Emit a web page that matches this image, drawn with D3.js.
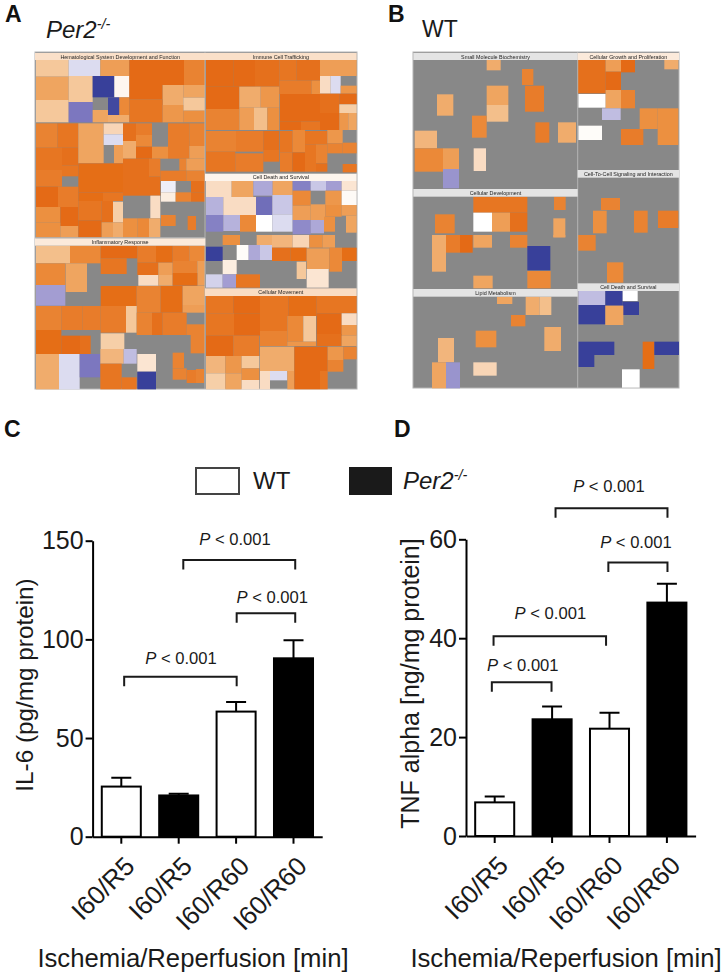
<!DOCTYPE html>
<html><head><meta charset="utf-8">
<script src="https://cdnjs.cloudflare.com/ajax/libs/d3/7.8.5/d3.min.js"></script>
<style>html,body{margin:0;background:#fff}svg{display:block}text{font-family:"Liberation Sans",Arial,sans-serif;fill:#1a1a1a}</style>
</head><body><svg id="c" width="725" height="977"><defs><filter id="soft" x="-2%" y="-2%" width="104%" height="104%"><feGaussianBlur stdDeviation="0.5"/></filter></defs></svg>
<script>
// ---------- DATA ----------
// Pathway tiles: [u0, v0, u1, v1, z] in grid units of each map region; z null = not significant
const tilesA1 = [
[18,45,116,95,.35],[116,45,211,93,-.2],[211,45,298,93,.6],[18,95,116,165,.55],[116,93,188,171,.35],[188,93,253,157,-1],[253,93,298,157,.05],
[18,165,116,232,.35],[116,171,188,232,-.7],[234,157,268,210,-.95],[268,157,298,210,.75],[188,195,234,232,.55],[234,210,298,232,.5],
[298,45,462,120,1],[462,45,525,120,.8],[298,120,398,163,1],[398,120,460,180,.5],[460,120,525,158,.55],[460,158,525,197,.35],[298,163,398,232,.9],[398,180,460,232,.65],[460,197,525,232,.7],
[18,235,82,308,.8],[82,235,145,308,.9],[18,308,96,375,.9],[96,308,145,362,.95],[96,362,145,394,.9],[18,375,96,425,.85],[18,425,84,486,1],[84,425,145,486,.85],[18,486,91,533,.7],[91,486,145,543,1],[18,533,91,578,.7],[91,543,145,578,.6],
[145,235,221,297,.55],[145,297,221,355,.55],[221,235,279,268,.25],[221,268,279,300,-.2],[252,300,279,355,.6],
[279,235,318,288,.95],[318,235,366,270,.85],[318,270,366,305,.75],[279,288,318,341,.5],[318,305,366,341,1],[366,305,414,341,.7],[414,235,478,288,.85],[478,235,525,303,.8],[414,288,478,341,.85],[478,303,525,341,.6],
[145,355,279,443,.97],[219,443,279,468,.9],[145,443,219,468,.97],[145,468,215,526,.9],[215,468,249,532,.95],[249,470,279,532,.3],[145,526,215,578,1],[215,532,249,578,.6],[249,532,279,578,.5],
[279,341,357,452,.95],[357,341,391,395,.85],[448,341,469,377,.8],[469,341,525,377,.6],[391,377,469,408,.85],[469,377,525,408,.8],[357,395,391,452,.95],
[361,452,391,520,.2],[279,520,323,578,.7],[323,520,357,578,.75],[357,520,391,578,.5],
[393,408,437,442,-.1],[393,442,437,470,.1],[483,408,525,442,.95],[437,442,483,470,.8],[483,442,525,470,.95],[393,510,437,543,.8],[473,513,498,555,.85]];
const tilesA2 = [
[18,45,100,125,1],[100,45,165,125,1],[165,45,238,125,.95],[238,45,290,107,.9],[290,45,360,107,.95],[360,45,470,93,.6],
[18,125,118,192,1],[118,125,182,188,.5],[182,125,238,188,.65],[238,107,335,147,.85],[335,107,360,147,.7],[360,93,392,146,.2],[392,93,422,146,-.2],[422,122,470,146,.65],
[18,192,118,255,.8],[118,188,162,255,.6],[162,188,202,255,.4],[202,188,238,255,.7],
[240,147,360,230,1],[240,230,303,255,1],[303,230,360,255,.9],[360,146,418,204,.95],[418,146,470,178,1],[418,178,470,204,.3],[360,204,418,255,1],[418,204,445,255,.65],[445,204,470,255,.55],
[18,258,108,320,.8],[108,258,190,320,.85],[190,258,238,315,.95],[18,320,106,380,.9],[106,325,190,380,.85],[190,315,238,350,.9],
[240,258,278,322,.9],[278,255,315,322,.75],[240,322,277,380,.85],[277,322,315,380,1],
[315,258,382,298,.9],[315,298,348,380,.9],[348,298,382,355,.8],[348,355,382,380,.95],[382,255,428,295,.65],[382,295,428,325,.8],[428,293,470,325,.8],[428,357,470,382,.9],
[18,408,95,456,.2],[95,408,160,456,.55],[160,408,218,452,-.45],[218,408,278,450,.55],[278,408,332,437,-.65],[332,408,378,437,-.3],[378,408,425,437,-.5],[425,408,470,437,.15],
[18,456,70,510,-.4],[70,456,120,510,.2],[120,456,168,510,.2],[168,455,217,510,-.75],[217,450,278,508,-.3],[278,437,332,482,.75],[376,437,425,480,.65],[425,437,470,480,.03],
[18,510,70,560,-.65],[70,510,120,558,-.4],[120,510,168,560,.75],[168,510,217,560,0],[217,508,278,560,-.2],[278,482,332,525,.6],[332,478,376,525,.6],[376,480,425,515,.7],[425,480,470,512,.6],[278,525,332,568,-.6],[332,525,372,565,-.45],[372,515,405,560,.7],[438,512,470,563,.55]];
const tilesA3 = [
[18,32,120,85,.4],[120,32,212,85,.75],[212,32,322,70,1],[212,70,290,117,.9],[322,32,378,83,.85],[378,32,428,83,.97],[428,32,478,78,.85],[478,32,525,78,.75],
[18,85,106,150,.75],[107,85,171,171,.55],[322,83,385,120,.95],[385,83,428,120,.6],[428,78,502,114,.8],[502,78,525,152,.6],[325,120,385,152,.2],[385,120,428,152,.5],[428,114,502,152,.97],
[18,150,106,212,-.5],[212,153,320,213,.97],[320,153,392,233,.8],[392,153,458,233,.97],[458,153,525,210,.55],[458,210,525,233,.6],
[18,213,94,285,.8],[94,213,158,285,.85],[158,213,212,285,.85],[212,213,288,293,.85],[288,213,320,293,.35],[320,233,366,300,.8],[366,233,398,300,.95],[398,233,435,300,.85],[435,233,470,300,.85],[470,268,525,300,.8],
[18,285,94,357,.97],[94,302,150,357,1],[150,302,182,357,.95],[212,295,283,342,.3],[482,300,525,355,.8],
[18,357,87,463,.5],[87,357,149,463,-.2],[149,357,211,427,-.7],[211,342,281,386,.45],[281,342,320,386,-.35],[211,386,275,463,.9],[275,427,320,463,.9],[322,357,378,410,.15],[322,410,378,463,-1],[428,353,462,400,.8],[428,400,470,434,.8],[470,405,498,444,.85],[498,402,522,444,.8]];
const tilesA4 = [
[68,0,120,30,.7],[170,0,216,30,.5],[216,0,278,38,.45],[278,0,328,38,.25],[328,0,368,38,.7],[368,0,405,38,.6],
[18,35,68,78,-1],[110,30,146,75,.02],[146,30,180,75,-.45],[180,30,216,75,-.3],[216,38,272,78,.95],[272,38,320,78,.97],[320,40,388,102,.6],[388,38,426,110,.75],[426,38,470,78,.97],
[68,75,110,118,.1],[18,118,68,158,-.25],[68,118,108,158,-.5],[108,118,180,158,.9],[290,80,318,132,.35],[320,102,386,158,.15],
[18,183,100,235,.9],[100,183,180,235,1],[18,235,102,302,.9],[102,235,180,302,1],[180,183,265,243,.9],[265,183,350,243,.97],[350,183,470,235,.9],
[180,243,262,288,.9],[262,243,310,320,.75],[310,243,348,320,.35],[180,288,262,333,.8],[262,320,348,333,.65],[350,235,425,297,1],[425,235,470,270,.2],[425,270,470,302,.65],[350,297,425,333,.95],[425,302,470,333,.55],
[18,302,100,363,1],[100,302,178,363,.85],[18,363,76,415,.45],[76,363,125,415,.65],[125,363,178,400,.35],[18,415,76,463,.3],[76,415,125,463,.55],[125,400,178,435,.7],[125,435,178,463,.2],
[180,335,283,408,.5],[180,408,210,463,.2],[210,408,262,436,-.2],[262,408,283,463,.6],[283,335,383,408,1],[283,408,360,463,1],[360,408,383,463,.9],[383,335,430,375,.65],[430,335,470,373,.8],[383,375,430,410,.8]];
const tilesB1 = [
[230,45,272,76,.5],[336,72,370,120,.8],[230,122,295,180,.55],[230,180,295,230,.4],[345,122,402,200,.85],[81,148,130,212,.5],[186,212,230,278,.75],[376,232,418,293,.85],[444,232,498,293,.5],[14,257,81,310,.45],[14,310,99,380,.75],[99,310,147,372,.6],[191,310,228,378,.2],[99,372,147,430,-.55],
[432,455,467,495,.8],[190,455,352,503,.9],[75,508,134,565,.8],[190,503,246,560,0],[246,503,300,560,.6],[300,503,352,560,.95],[430,520,466,577,.55]];
const tilesB2 = [
[23,45,107,145,.95],[107,45,153,80,.6],[153,45,195,82,1],[283,45,325,73,.5],[107,80,153,135,1],[25,147,107,188,0],[107,135,153,190,.55],[153,135,195,190,.8],[96,190,152,225,-.35],[209,190,263,252,.7],[263,190,325,300,.7],[25,242,96,285,.02],[153,252,220,300,.85],
[93,459,150,495,.8],[69,497,110,565,.7],[192,497,233,563,.8],[264,497,325,549,.85]];
const tilesB3 = [
[66,0,108,110,.5],[108,0,150,53,.85],[150,0,188,53,1],[190,0,246,38,.55],[300,0,352,38,.8],[430,0,466,7,.55],[352,33,421,106,-1],[190,122,248,160,.55],[352,108,422,160,.75],
[261,185,307,207,.55],[347,185,389,240,.5],[389,185,424,240,.4],[303,240,346,274,.8],[197,287,259,337,.7],[403,276,453,348,.5],[84,309,132,382,.45],[66,382,108,460,.55],[108,382,150,460,-.55],[190,382,260,422,.25]];
const tilesB4 = [
[23,0,77,47,.8],[111,82,160,143,.75],[25,168,106,210,-.35],[106,168,158,212,-1],[158,168,203,198,0],[158,200,207,240,-1],[25,210,106,268,-1],[106,212,160,270,.55],[25,320,133,360,-1],[25,360,73,396,-1],[218,320,253,402,.97],[253,320,327,360,-1],[156,403,209,458,0]];
// Category headers: [u0, v0, u1, v1, z]  and labels
const headerLabels = ["Hematological System Development and Function","Immune Cell Trafficking","Cell Death and Survival","Inflammatory Response","Cellular Movement","Small Molecule Biochemistry","Cellular Growth and Proliferation","Cell-To-Cell Signaling and Interaction","Cellular Development","Lipid Metabolism","Cell Death and Survival"];
const headerRegion = [0,1,1,2,3,4,5,5,4,6,7];
const headerBoxes = [[15,24,526,45,.18],[15,24,470,45,.18],[15,386,470,408,.06],[15,10,526,32,.12],[15,160,470,183,.2],[10,24,503,45,null],[23,24,327,45,.12],[23,375,327,398,null],[10,432,503,455,null],[10,162,503,185,null],[23,145,327,168,null]];

const categories = ["I60/R5","I60/R5","I60/R60","I60/R60"];
const groups = ["WT","Per2","WT","Per2"];
const il6Means = [25.4,20.9,63.4,90.4];
const il6Upper = [29.9,21.8,68.2,99.5];
const tnfMeans = [6.8,23.6,21.7,47.2];
const tnfUpper = [8,26.2,24.9,51];
const il6Ticks = [0,50,100,150];
const tnfTicks = [0,20,40,60];
// significance brackets: bar position from/to, height in y units, label position / height
const il6From = [1.08,2.01,.05], il6To = [3.03,3.03,2.01], il6Level = [140.2,113.2,81.1];
const il6LabelAt = [1.98,2.63,1.04], il6LabelLevel = [147.8,118.6,87.5];
const tnfFrom = [1.06,1.98,-.02,-.05], tnfTo = [3.01,3.01,1.94,.99], tnfLevel = [66.3,55.3,40.4,31.1];
const tnfLabelAt = [1.99,2.46,.97,.49], tnfLabelLevel = [69.5,58.2,43.8,33.4];

// ---------- RENDER ----------
const svg = d3.select("#c");
const tileColor = d3.scaleLinear()
  .domain([-1,-.7,-.5,-.2,0,.2,.35,.5,.7,.85,1])
  .range(["#383f9a","#7b77bf","#a39dd2","#dcdcf0","#ffffff","#f9dcc3","#f5c89b","#f0ac6c","#ec9040","#e87c2a","#e46a14"]);

const regions = [[30,45,180,195,tilesA1],[200,45,165,195,tilesA2],[30,235,180,160,tilesA3],[200,235,165,160,tilesA4],
                 [410,45,170,195,tilesB1],[570,45,115,195,tilesB2],[410,235,170,160,tilesB3],[570,235,115,160,tilesB4]]
  .map(([x,y,w,h,t]) => ({t, sx:d3.scaleLinear([0,w*3],[x,x+w]), sy:d3.scaleLinear([0,h*3],[y,y+h])}));

const maps = svg.append("g").attr("filter","url(#soft)");
maps.selectAll("rect.bg").data([[35,52,322,337],[413,52,266,336]]).join("rect")
  .attr("x",d=>d[0]).attr("y",d=>d[1]).attr("width",d=>d[2]).attr("height",d=>d[3])
  .attr("fill","#888").attr("stroke","#b4b4b4").attr("stroke-width",1);
regions.forEach(r=>{
  maps.append("g").selectAll("rect").data(r.t).join("rect")
    .attr("x",d=>r.sx(d[0])).attr("y",d=>r.sy(d[1]))
    .attr("width",d=>r.sx(d[2])-r.sx(d[0])).attr("height",d=>r.sy(d[3])-r.sy(d[1]))
    .attr("fill",d=>tileColor(d[4]));
});
// dividers between category blocks
maps.append("g").selectAll("line").data([[205,52,205,389],[35,237.7,205,237.7],[577.7,52,577.7,388]]).join("line")
  .attr("x1",d=>d[0]).attr("y1",d=>d[1]).attr("x2",d=>d[2]).attr("y2",d=>d[3]).attr("stroke","#b4b4b4");
const hdr = maps.append("g").selectAll("g").data(headerLabels).join("g");
hdr.append("rect")
  .attr("x",(d,i)=>regions[headerRegion[i]].sx(headerBoxes[i][0])).attr("y",(d,i)=>regions[headerRegion[i]].sy(headerBoxes[i][1]))
  .attr("width",(d,i)=>regions[headerRegion[i]].sx(headerBoxes[i][2])-regions[headerRegion[i]].sx(headerBoxes[i][0]))
  .attr("height",(d,i)=>regions[headerRegion[i]].sy(headerBoxes[i][3])-regions[headerRegion[i]].sy(headerBoxes[i][1]))
  .attr("fill",(d,i)=>headerBoxes[i][4]===null?"#e4e4e4":tileColor(headerBoxes[i][4]));
hdr.append("text").text(d=>d).attr("text-anchor","middle").attr("font-size",5.4)
  .style("fill","#222")
  .attr("x",(d,i)=>regions[headerRegion[i]].sx((headerBoxes[i][0]+headerBoxes[i][2])/2))
  .attr("y",(d,i)=>regions[headerRegion[i]].sy((headerBoxes[i][1]+headerBoxes[i][3])/2)+2);

// panel letters & titles
svg.append("g").selectAll("text").data([["A",5,22],["B",388,22],["C",4,437],["D",394,437]]).join("text")
  .text(d=>d[0]).attr("x",d=>d[1]).attr("y",d=>d[2]).attr("font-size",23).attr("font-weight","bold").style("fill","#111");

function per2(sel,x,y,fs){
  const t=sel.append("text").attr("x",x).attr("y",y).attr("font-size",fs).attr("font-style","italic");
  t.append("tspan").text("Per2");
  t.append("tspan").text("-/-").attr("font-size",fs*.6).attr("dy",-fs*.36);
}
per2(svg,46,38,24);
svg.append("text").text("WT").attr("x",422).attr("y",37).attr("font-size",23);

// legend
svg.append("rect").attr("x",196).attr("y",468).attr("width",43).attr("height",26).attr("fill","#fff").attr("stroke","#444").attr("stroke-width",2);
svg.append("text").text("WT").attr("x",253).attr("y",489).attr("font-size",24);
svg.append("rect").attr("x",349).attr("y",467).attr("width",43).attr("height",28).attr("fill","#1a1a1a");
per2(svg,403,489,24);

function barPanel(o){
  const g = svg.append("g");
  const y = d3.scaleLinear().domain([0,o.ticks[o.ticks.length-1]]).range([o.y0,o.yTop]);
  const x = d3.scaleBand().domain(d3.range(categories.length)).range([o.x0,o.x0+229.6]).paddingInner(.32).paddingOuter(.16);
  const cx = i => x(0)+x.bandwidth()/2 + i*x.step();
  const bars = g.append("g").selectAll("g").data(o.means).join("g");
  bars.append("path").attr("fill","none").attr("stroke","#000").attr("stroke-width",2)
    .attr("d",(d,i)=>`M${cx(i)},${y(d)}V${y(o.upper[i])}M${cx(i)-10},${y(o.upper[i])}H${cx(i)+10}`);
  bars.append("rect").attr("x",(d,i)=>x(i)).attr("y",d=>y(d)).attr("width",x.bandwidth()).attr("height",d=>y(0)-y(d))
    .attr("fill",(d,i)=>groups[i]==="WT"?"#fff":"#000").attr("stroke","#000").attr("stroke-width",2);
  const ya = g.append("g").attr("transform",`translate(${o.x0},0)`).call(d3.axisLeft(y).tickValues(o.ticks).tickSize(7).tickPadding(2).tickSizeOuter(0));
  const xa = g.append("g").attr("transform",`translate(0,${o.y0})`).call(d3.axisBottom(x).tickFormat(i=>categories[i]).tickSize(7).tickSizeOuter(0));
  [ya,xa].forEach(a=>{a.selectAll("path,line").attr("stroke","#000").attr("stroke-width",2);});
  ya.selectAll("text").attr("font-size",25).attr("font-family","Liberation Sans").style("fill","#1a1a1a");
  xa.selectAll("text").attr("font-size",o.xfs).attr("font-family","Liberation Sans").style("fill","#1a1a1a")
    .attr("text-anchor","end").attr("dy",0).attr("y",0)
    .attr("transform","translate(15,31) rotate(-45)");
  g.append("text").text(o.ylabel).attr("font-size",o.yfs).attr("text-anchor","middle")
    .attr("transform",`translate(${o.yTitleX},${o.yTitleMid}) rotate(-90)`);
  g.append("text").text("Ischemia/Reperfusion [min]").attr("x",o.xTitleX).attr("y",967).attr("font-size",o.xtfs).attr("text-anchor","middle");
  o.from.forEach((f,i)=>{
    const a=cx(f), b=cx(o.to[i]), l=y(o.level[i]);
    g.append("path").attr("fill","none").attr("stroke","#1a1a1a").attr("stroke-width",2)
      .attr("d",`M${a},${l+9.5}V${l}H${b}V${l+9.5}`);
    const t=g.append("text").attr("x",cx(o.labelAt[i])).attr("y",y(o.labelLevel[i])).attr("font-size",16.6).attr("text-anchor","middle");
    t.append("tspan").text("P").attr("font-style","italic");
    t.append("tspan").text(" < 0.001");
  });
}
barPanel({x0:92.6,y0:836.7,yTop:540.7,ticks:il6Ticks,means:il6Means,upper:il6Upper,ylabel:"IL-6 (pg/mg protein)",yfs:24.3,yTitleX:33,yTitleMid:685,xTitleX:193,xfs:26,xtfs:25.7,
  from:il6From,to:il6To,level:il6Level,labelAt:il6LabelAt,labelLevel:il6LabelLevel});
barPanel({x0:466,y0:836,yTop:539.3,ticks:tnfTicks,means:tnfMeans,upper:tnfUpper,ylabel:"TNF alpha [ng/mg protein]",yfs:25,yTitleX:419,yTitleMid:683.5,xTitleX:566,xfs:26,xtfs:25.7,
  from:tnfFrom,to:tnfTo,level:tnfLevel,labelAt:tnfLabelAt,labelLevel:tnfLabelLevel});
</script></body></html>
